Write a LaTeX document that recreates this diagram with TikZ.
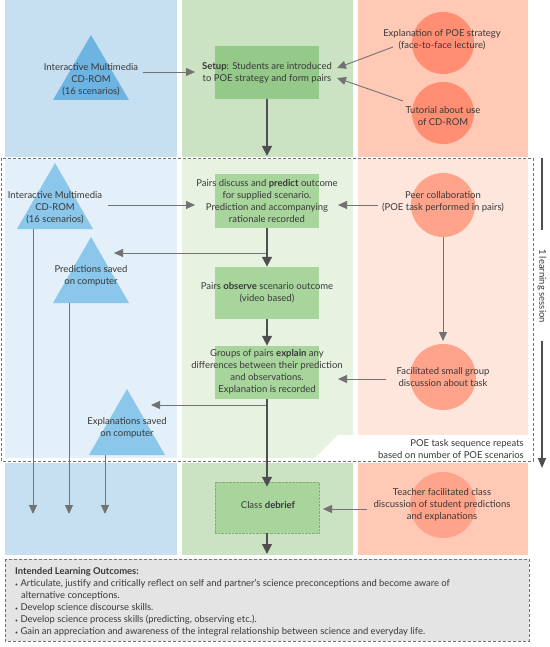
\documentclass[tikz,border=0pt]{standalone}
\usepackage{fontspec}
\setmainfont{Lato}
\usetikzlibrary{arrows.meta}
\definecolor{colB}{HTML}{C6E0F2}
\definecolor{colBl}{HTML}{E3F0FA}
\definecolor{colG}{HTML}{CBE2C3}
\definecolor{colGl}{HTML}{E7F2E1}
\definecolor{colS}{HTML}{FFC9B5}
\definecolor{colSl}{HTML}{FFE6DD}
\definecolor{triTop}{HTML}{6DB4E3}
\definecolor{triLow}{HTML}{8BC6EB}
\definecolor{boxTop}{HTML}{94C989}
\definecolor{boxLow}{HTML}{A8D59C}
\definecolor{cirTop}{HTML}{FF8E72}
\definecolor{cirLow}{HTML}{FFA48A}
\definecolor{txtc}{HTML}{383838}
\definecolor{thinc}{HTML}{727272}
\definecolor{thickc}{HTML}{4F4F4F}
\definecolor{outc}{HTML}{E4E4E4}
\newcommand\mytri[4]{%
  \fill[#4] ({#1-38},#3) -- (#1,#2) -- ({#1+38},#3) -- cycle;}
\begin{document}
\begin{tikzpicture}[x=1pt,y=-1pt,
  txt/.style={text=txtc, align=center, inner sep=0pt, font=\fontsize{9.5}{12}\selectfont},
  thin/.style={draw=thinc, line width=0.9pt, -{Triangle[length=9pt,width=8pt]}},
  thick/.style={draw=thickc, line width=2.6pt, -{Triangle[length=10pt,width=9.5pt]}},
  boxa/.style={fill=boxTop, minimum width=104pt, minimum height=53pt, inner sep=0pt},
  boxb/.style={fill=boxLow, minimum width=104pt, inner sep=0pt},
  cira/.style={circle, fill=cirTop, minimum size=62pt, inner sep=0pt},
  cirb/.style={circle, fill=cirLow, minimum size=64pt, inner sep=0pt},
  outl/.style={text=txtc, anchor=west, inner sep=0pt, font=\fontsize{9.4}{11}\selectfont}]
\useasboundingbox (0,0) rectangle (549,647);
\fill[white] (0,0) rectangle (549,647);
% columns top
\fill[colB] (5,0) rectangle (177,157);
\fill[colG] (182,0) rectangle (353,157);
\fill[colS] (358,0) rectangle (528,157);
% columns middle (light)
\fill[colBl] (5,159) rectangle (177,458);
\fill[colGl] (182,159) rectangle (353,458);
\fill[colSl] (358,159) rectangle (528,458);
% columns bottom
\fill[colB] (5,463) rectangle (177,555);
\fill[colG] (182,463) rectangle (353,555);
\fill[colS] (358,463) rectangle (528,555);
% white notch
\fill[white] (313,460) -- (338,435) -- (533,435) -- (533,460) -- cycle;
% dashed session region
\draw[thinc, line width=0.8pt, dash pattern=on 3pt off 2pt] (1,158) rectangle (533,461);
\node[txt, anchor=east, align=right] (rep) at (524,449) {POE task sequence repeats\\based on number of POE scenarios};

% ---- top section
\mytri{91}{35}{100}{triTop}
\node[txt] (t1) at (91,80) {Interactive Multimedia\\CD-ROM\\(16 scenarios)};
\node[boxa] (setup) at (267,72.5) {};
\node[txt] (setupt) at (267,73) {\textbf{Setup}: Students are introduced\\to POE strategy and form pairs};
\node[cira] (c1) at (443,43) {};
\node[txt] (c1t) at (442,40) {Explanation of POE strategy\\(face-to-face lecture)};
\node[cira] (c2) at (443,113) {};
\node[txt] (c2t) at (443,116) {Tutorial about use\\of CD-ROM};

% ---- session section
\mytri{55}{163}{229}{triLow}
\node[txt] (t2) at (55,208) {Interactive Multimedia\\CD-ROM\\(16 scenarios)};
\mytri{91}{237}{303}{triLow}
\node[txt] (t3) at (91,276) {Predictions saved\\on computer};
\mytri{127}{389}{455}{triLow}
\node[txt] (t4) at (127,428) {Explanations saved\\on computer};

\node[boxb, minimum height=54pt] (pred) at (267,201) {};
\node[txt] (predt) at (267,201) {Pairs discuss and \textbf{predict} outcome\\for supplied scenario.\\Prediction and accompanying\\rationale recorded};
\node[boxb, minimum height=52pt] (obs) at (267,293) {};
\node[txt] (obst) at (267,292.5) {Pairs \textbf{observe} scenario outcome\\(video based)};
\node[boxb, minimum height=53pt] (expl) at (267,372.5) {};
\node[txt] (explt) at (267,372) {Groups of pairs \textbf{explain} any\\differences between their prediction\\and observations.\\Explanation is recorded};

\node[cirb] (peer) at (443,205) {};
\node[txt] (peert) at (443,202) {Peer collaboration\\(POE task performed in pairs)};
\node[cirb, minimum size=66pt] (fac) at (443,377) {};
\node[txt] (fact) at (443,377.5) {Facilitated small group\\discussion about task};

% ---- bottom section
\node[boxb, minimum height=51pt, draw=boxLow!80!black, densely dotted, line width=0.4pt] (deb) at (267,507.5) {};
\node[txt] (debt) at (268,505) {Class \textbf{debrief}};
\node[cirb, minimum size=66pt] (tea) at (443,505) {};
\node[txt] (teat) at (442,505) {Teacher facilitated class\\discussion of student predictions\\and explanations};

% ---- coordinates for connector ends
\coordinate (a1s) at (143,72);  \coordinate (a1e) at (195,72);
\coordinate (a2s) at (393,47);  \coordinate (a2e) at (337,68);
\coordinate (a3s) at (403,101); \coordinate (a3e) at (337,78);
\coordinate (a4e) at (267,156);
\coordinate (a5s) at (108,205); \coordinate (a5e) at (195,205);
\coordinate (a6s) at (378,205); \coordinate (a6e) at (338,205);
\coordinate (br1) at (267,253); \coordinate (br1e) at (114,253);
\coordinate (a10s) at (386,379); \coordinate (a10e) at (338,379);
\coordinate (a11e) at (443,341);
\coordinate (br2) at (267,405); \coordinate (br2e) at (151,405);
\coordinate (t2b) at (33,229); \coordinate (t3b) at (69,303); \coordinate (t4b) at (105,455);
\coordinate (d1) at (33,514); \coordinate (d2) at (69,514); \coordinate (d3) at (105,514);
\coordinate (a17s) at (367,509); \coordinate (a17e) at (323,509);
\coordinate (fin) at (267,554);

% ---- connectors
\draw[thin] (a1s) -- (a1e);
\draw[thin] (a2s) -- (a2e);
\draw[thin] (a3s) -- (a3e);
\draw[thick] (setup.south) -- (a4e);
\draw[thin] (a5s) -- (a5e);
\draw[thin] (a6s) -- (a6e);
\draw[thin] (br1) -- (br1e);
\draw[thick] (pred.south) -- (obs.north);
\draw[thick] (obs.south) -- (expl.north);
\draw[thin] (a10s) -- (a10e);
\draw[thin] (peer.south) -- (a11e);
\draw[thin] (br2) -- (br2e);
\draw[thick] (expl.south) -- ([yshift=-5pt]deb.north);
\draw[thin] (t2b) -- (d1);
\draw[thin] (t3b) -- (d2);
\draw[thin] (t4b) -- (d3);
\draw[thin] (a17s) -- (a17e);
\draw[thick] (deb.south) -- (fin);

% ---- learning session marker
\coordinate (ls1) at (542,158); \coordinate (ls2) at (542,230);
\coordinate (ls3) at (542,341); \coordinate (ls4) at (542,468);
\node[txt, rotate=-90] (lst) at (542,286) {1 learning session};
\draw[thickc, line width=1.6pt] (ls1) -- (ls2);
\draw[thickc, line width=1.6pt, -{Triangle[length=10pt,width=8pt]}] (ls3) -- (ls4);

% ---- outcomes box
\draw[fill=outc, draw=thinc, line width=0.8pt, dash pattern=on 3pt off 2pt] (5,559) rectangle (529,641);
\node[outl, font=\fontsize{9.4}{11}\selectfont\bfseries] (o0) at (15,572) {Intended Learning Outcomes:};
\node[outl] (o1) at (15,584) {{\fontsize{5}{5}\selectfont •} Articulate, justify and critically reflect on self and partner's science preconceptions and become aware of};
\node[outl] (o1b) at (21,596) {alternative conceptions.};
\node[outl] (o2) at (15,608) {{\fontsize{5}{5}\selectfont •} Develop science discourse skills.};
\node[outl] (o3) at (15,620) {{\fontsize{5}{5}\selectfont •} Develop science process skills (predicting, observing etc.).};
\node[outl] (o4) at (15,632) {{\fontsize{5}{5}\selectfont •} Gain an appreciation and awareness of the integral relationship between science and everyday life.};
\end{tikzpicture}
\end{document}
